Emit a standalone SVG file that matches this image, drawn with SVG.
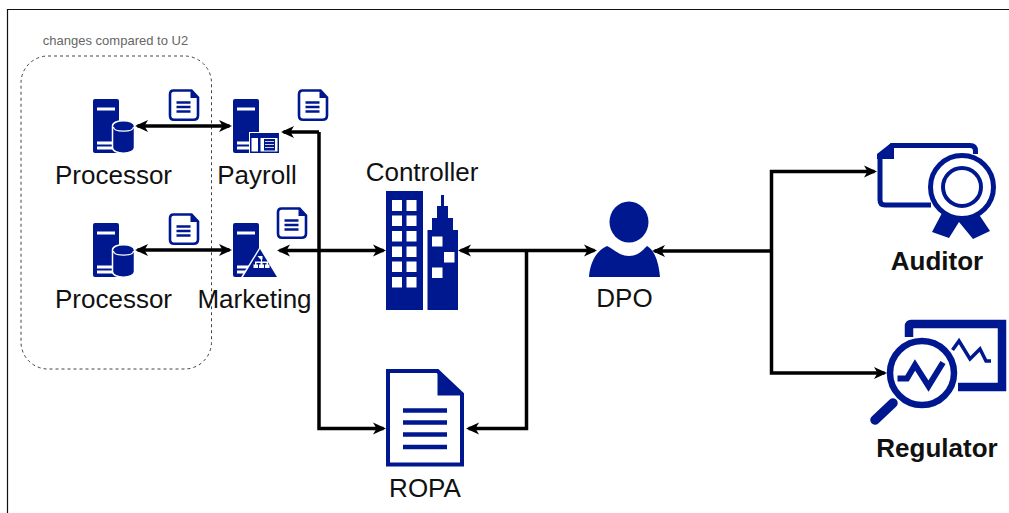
<svg xmlns="http://www.w3.org/2000/svg" xmlns:xlink="http://www.w3.org/1999/xlink" width="1009" height="513" viewBox="0 0 1009 513">
<style>
text{font-family:"Liberation Sans",Arial,sans-serif;font-size:26px;fill:#111;text-anchor:middle}
.b{font-weight:700}
.blue{fill:#00188f}
.w{fill:#fff}
.line{fill:none;stroke:#00188f}
.conn{fill:none;stroke:#000;stroke-width:3.500;marker-end:url(#ah)}
.both{marker-start:url(#ah)}
</style>
<defs>
<marker id="ah" markerUnits="userSpaceOnUse" orient="auto-start-reverse" markerWidth="16" markerHeight="16" viewBox="0 0 16 16" refX="12" refY="8">
<path d="M1.500 2L14.500 8L1.500 14L5 8Z" fill="#000"/>
</marker>
<g id="server"><rect x="93" y="99" width="26" height="54" rx="2" class="blue"/><rect x="97" y="107.500" width="18" height="3" class="w"/><rect x="97" y="141.500" width="16" height="3" class="w"/><rect x="97" y="146.500" width="16" height="3" class="w"/></g>
<g id="doc"><path d="M173.500 90.500H191.500L198 97.500V115.500Q198 119.800 193.500 119.800H174Q170 119.800 170 115.500V94.500Q170 90.500 173.500 90.500Z" fill="#fff" stroke="#00188f" stroke-width="2.600"/><path d="M190.500 90V98H198Z" class="blue"/><path d="M176.500 102.500H190.500M176.500 107H190.500M176.500 111.500H190.500" class="line" stroke-width="2.500"/></g>
<g id="cyl"><path d="M112.500 126C112.500 119 134.500 119 134.500 126V147.500C134.500 155 112.500 155 112.500 147.500Z" class="blue" stroke="#fff" stroke-width="1.500"/><path d="M113.500 127C113.500 132.500 133.500 132.500 133.500 127" fill="none" stroke="#fff" stroke-width="1.200"/></g>
</defs>
<path d="M7.500 513V9.500H1009" fill="none" stroke="#111" stroke-width="1.200"/>
<rect id="changes-box" x="21" y="56" width="190.500" height="313" rx="27" fill="none" stroke="#444" stroke-width="1" stroke-dasharray="3 3"/>
<text x="115.500" y="45" style="font-size:13px;fill:#666">changes compared to U2</text>
<g id="connectors">
<path class="conn both" d="M137.500 126H229.500"/>
<path class="conn both" d="M137.500 250H229.500"/>
<path class="conn" d="M319 132H283.500"/>
<path class="conn" d="M319 132V428.500H383.500"/>
<path class="conn both" d="M279.500 250.500H383.500"/>
<path class="conn both" d="M460.500 250.500H594.500"/>
<path class="conn" d="M526.500 250.500V428.500H468.500"/>
<path class="conn" d="M771.500 251H654.500"/>
<path class="conn" d="M771.500 251V171.500H874.500"/>
<path class="conn" d="M771.500 251V373H884.500"/>
</g>
<g id="processor1"><use xlink:href="#server"/><use xlink:href="#cyl"/><use xlink:href="#doc"/><text x="113.500" y="184">Processor</text></g>
<g id="processor2"><use xlink:href="#server" y="124"/><use xlink:href="#cyl" y="124"/><use xlink:href="#doc" y="124"/><text x="113.500" y="308">Processor</text></g>
<g id="payroll"><use xlink:href="#server" x="140"/>
<rect x="249" y="132" width="31" height="21.500" fill="#fff"/><rect x="250" y="133" width="29" height="20" class="blue"/><rect x="251.500" y="138" width="26" height="13.500" class="w"/><rect x="258" y="138" width="2.500" height="14" class="blue"/><rect x="264" y="139" width="11" height="11.500" class="blue"/><path d="M265 141.500H274M265 144.500H274M265 147.500H274" stroke="#fff" stroke-width=".8"/>
<use xlink:href="#doc" x="129"/><text x="257" y="184">Payroll</text></g>
<g id="marketing"><use xlink:href="#server" x="140" y="124"/>
<path d="M260 246.500L279.500 278H240.500Z" fill="#fff"/><path d="M260 249L277 277H243Z" class="blue"/><path d="M257.500 256h5v3.500h-1.500v2h7v3h1.500v3.500h-4.500v-3.500h1.500v-1.500h-4v1.500h1.500v3.500h-5v-3.500h1.500v-1.500h-4v1.500h1.500v3.500h-4.500v-3.500h1.500v-3h7v-2h-1.500z" class="w"/>
<use xlink:href="#doc" x="108" y="118"/><text x="254.500" y="308">Marketing</text></g>
<g id="controller"><rect x="386" y="191" width="37" height="119" class="blue"/>
<path d="M392 200h10v11h-10zM406.500 200h10v11h-10zM392 215.500h10v10.500h-10zM406.500 215.500h10v10.500h-10zM392 231h10v10.500h-10zM406.500 231h10v10.500h-10zM392 246.500h10v10.500h-10zM406.500 246.500h10v10.500h-10zM392 261.500h10v10.500h-10zM406.500 261.500h10v10.500h-10zM392 277h10v10.500h-10zM406.500 277h10v10.500h-10z" class="w"/>
<path d="M427.500 310V230H432V218H437V206H441V195H444V206H448V218H453V230H458V310Z" class="blue"/>
<path d="M432 236.500h10.500v10h-10.500zM444 252h10.500v10.500h-10.500zM432 267.500h10.500v10.500h-10.500z" class="w"/>
<text x="422" y="181">Controller</text></g>
<g id="dpo"><ellipse cx="629" cy="222" rx="19.500" ry="20.500" class="blue"/>
<path d="M589 277C590 262 597 250 607 246C615 250 620 256 629 256C638 256 643 250 647 246C655 250 659 264 660 277Z" class="blue"/><text x="624.500" y="307">DPO</text></g>
<g id="ropa"><path d="M388 371H437.500L462 394V464.500H388Z" fill="#fff" stroke="#00188f" stroke-width="4"/><path d="M437.500 369V395.500H464Z" class="blue"/>
<path d="M403 410.500H447M403 422.500H447M403 434.500H447M403 447H447" class="line" stroke-width="4.500"/><text x="425" y="497">ROPA</text></g>
<g id="auditor"><path d="M931 205H885Q880 205 880 200V158L892 145.500H970Q975.500 145.500 975.500 151V154" fill="none" stroke="#00188f" stroke-width="5"/><path d="M877 154L891 143H894V159H877Z" class="blue"/>
<path d="M942 213L932 232L949 238L959 222L973 239L990 231L978 213Z" class="blue"/>
<circle cx="962" cy="187" r="31.500" fill="#fff" stroke="#00188f" stroke-width="5"/><circle cx="962" cy="187" r="19" fill="#fff" stroke="#00188f" stroke-width="4"/>
<text class="b" x="937" y="270">Auditor</text></g>
<g id="regulator"><path d="M909 337V326Q909 324 911 324H1002V387H958" fill="none" stroke="#00188f" stroke-width="8.500"/>
<path d="M952.500 350L959 341L970 359L980 349L986 361H991" fill="none" stroke="#00188f" stroke-width="3.500"/>
<circle cx="922" cy="373" r="32" fill="#fff" stroke="#00188f" stroke-width="6.500"/>
<path d="M897.500 378.500H907L915 365L928.500 386L943 362.500" fill="none" stroke="#00188f" stroke-width="6"/>
<path d="M875 420L893 403" fill="none" stroke="#00188f" stroke-width="9.500" stroke-linecap="round"/>
<text class="b" x="937" y="457">Regulator</text></g>
</svg>
